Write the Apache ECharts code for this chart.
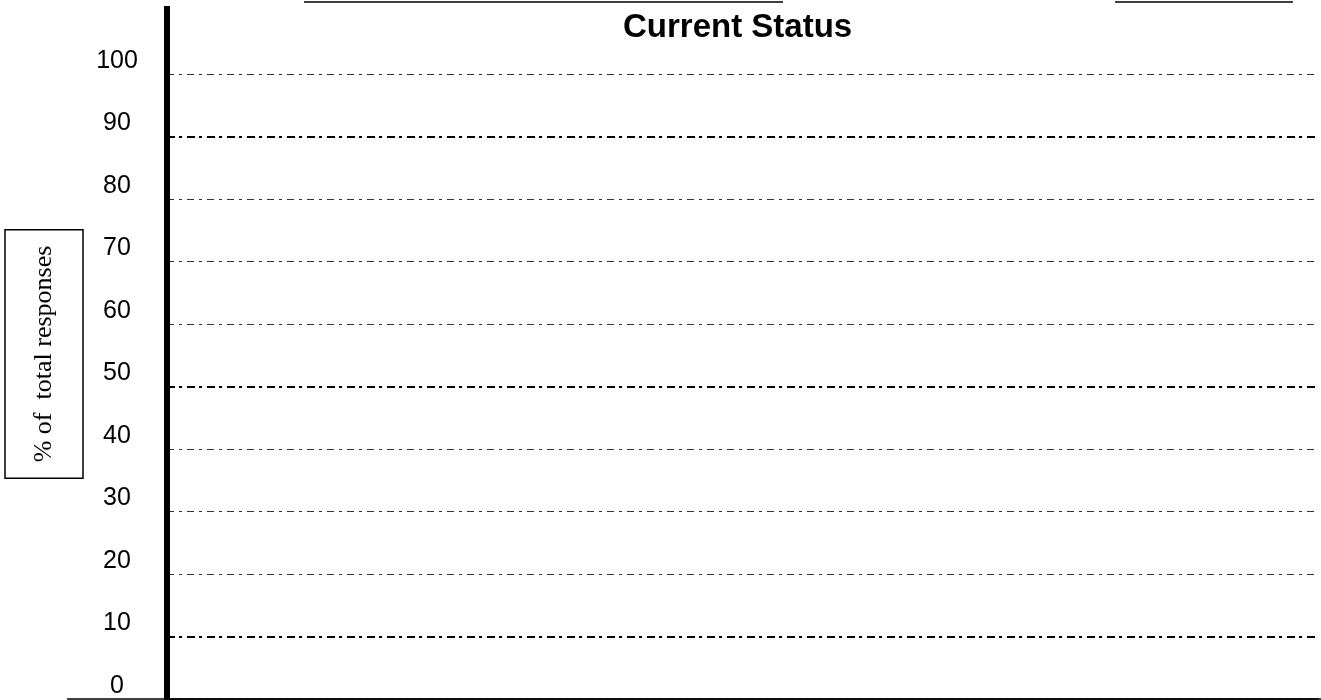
<!DOCTYPE html>
<html>
<head>
<meta charset="utf-8">
<script src="https://cdn.jsdelivr.net/npm/echarts@6/dist/echarts.min.js"></script>
<style>
html,body{margin:0;padding:0;background:#fff;}
#chart{width:1321px;height:700px;}
</style>
</head>
<body>
<div id="chart"></div>
<script>
// ---- data ----
var chartTitle = 'Current Status';
var yAxisTitle = '% of  total responses';
var yTicks = [0, 10, 20, 30, 40, 50, 60, 70, 80, 90, 100];
var majorLines = [10, 50, 90];   // emphasised (darker) gridlines
var categories = [];             // no categories / values shown in the chart
var values = [];

var GRID_LEFT = 167, GRID_TOP = 74, GRID_RIGHT = 3, GRID_BOTTOM = 1;

var chart = echarts.init(document.getElementById('chart'), null, {renderer: 'canvas'});
var option = {
  animation: false,
  backgroundColor: '#ffffff',
  title: {
    text: chartTitle,
    left: 623,
    top: 11,
    padding: 0,
    textStyle: {
      fontFamily: 'Liberation Sans, Arial, sans-serif',
      fontWeight: 'bold',
      fontSize: 33,
      color: '#000'
    }
  },
  grid: {
    left: GRID_LEFT, top: GRID_TOP, right: GRID_RIGHT, bottom: GRID_BOTTOM,
    containLabel: false,
    outerBoundsMode: 'none'
  },
  xAxis: {
    type: 'value',
    min: 0,
    max: 1,
    axisLine: {show: true, onZero: false, lineStyle: {color: '#000', width: 1.5}},
    axisTick: {show: false},
    axisLabel: {show: false},
    splitLine: {show: false}
  },
  yAxis: {
    type: 'value',
    min: yTicks[0],
    max: yTicks[yTicks.length - 1],
    interval: yTicks[1] - yTicks[0],
    axisLine: {show: true, lineStyle: {color: '#000', width: 6}},
    axisTick: {show: false},
    axisLabel: {
      show: true,
      align: 'center',
      verticalAlign: 'bottom',
      lineHeight: 26,
      margin: 50,
      fontFamily: 'Liberation Sans, Arial, sans-serif',
      fontSize: 25,
      color: '#000'
    },
    splitLine: {
      show: true,
      lineStyle: {color: '#333', width: 1, type: [7, 5, 3, 5]}
    }
  },
  series: [{
    type: 'line',
    data: values,
    silent: true,
    markLine: {
      silent: true,
      symbol: 'none',
      label: {show: false},
      lineStyle: {color: '#000', width: 2, type: [8, 4, 3, 5]},
      data: majorLines.map(function (v) { return {yAxis: v}; })
    }
  }],
  graphic: [
    // thick y-axis line continues above the plot area
    {type: 'line', silent: true, shape: {x1: GRID_LEFT, y1: 6, x2: GRID_LEFT, y2: GRID_TOP}, style: {stroke: '#000', lineWidth: 6}},
    // baseline extends to the left below the tick labels
    {type: 'line', silent: true, shape: {x1: 67, y1: 699, x2: 1321, y2: 699}, style: {stroke: '#000', lineWidth: 1.5}},
    // blank fill-in lines at the top
    {type: 'line', silent: true, shape: {x1: 304, y1: 2, x2: 783, y2: 2}, style: {stroke: '#000', lineWidth: 1.5}},
    {type: 'line', silent: true, shape: {x1: 1115, y1: 2, x2: 1293, y2: 2}, style: {stroke: '#000', lineWidth: 1.5}},
    // boxed axis title
    {
      type: 'text',
      silent: true,
      x: 44,
      y: 354,
      rotation: Math.PI / 2,
      style: {
        text: yAxisTitle,
        fontFamily: 'Liberation Serif, Times New Roman, serif',
        fontSize: 26,
        lineHeight: 26,
        fill: '#000',
        align: 'center',
        verticalAlign: 'middle',
        padding: [26, 16, 26, 16],
        borderColor: '#000',
        borderWidth: 1.5
      }
    }
  ]
};
chart.setOption(option);
</script>
</body>
</html>
